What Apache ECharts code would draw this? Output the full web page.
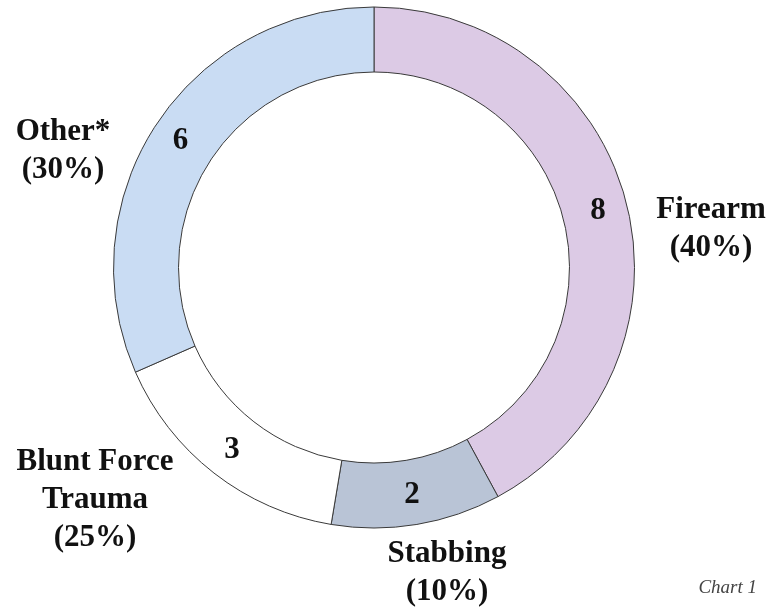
<!DOCTYPE html>
<html>
<head>
    <meta charset="utf-8">
    <title>Chart 1</title>
    <script src="https://cdn.jsdelivr.net/npm/echarts@6/dist/echarts.min.js"></script>
    <style>
    html, body { margin: 0; padding: 0; background: #fff; }
    #main { width: 771px; height: 607px; }
    </style>
</head>
<body>
    <div id="main"></div>
    <script type="text/javascript">
        // data, clockwise from 12 o'clock
        var categories = ['Firearm', 'Stabbing', 'Blunt Force\nTrauma', 'Other*'];
        var counts = [8, 2, 3, 6];
        var pctLabels = ['40%', '10%', '25%', '30%'];
        var sliceColors = ['#DCCAE5', '#B9C4D6', '#FFFFFF', '#C9DCF3'];

        // where each outer label sits (centre of text block)
        var labelPos = [[711, 229], [447, 573], [95, 500], [63, 151]];

        var myChart = echarts.init(document.getElementById('main'));

        var pieData = categories.map(function (name, i) {
            return {
                name: name,
                value: counts[i],
                itemStyle: { color: sliceColors[i] }
            };
        });

        var font = '"Liberation Serif", "Times New Roman", serif';

        var option = {
            backgroundColor: '#fff',
            animation: false,
            series: [
                {
                    type: 'pie',
                    center: [374, 267.5],
                    radius: [195.5, 260.5],
                    startAngle: 90,
                    clockwise: true,
                    silent: true,
                    itemStyle: {
                        borderColor: '#3a3a3a',
                        borderWidth: 1
                    },
                    label: {
                        show: true,
                        position: 'inside',
                        formatter: '{c}',
                        color: '#111',
                        fontFamily: font,
                        fontWeight: 'bold',
                        fontSize: 31
                    },
                    labelLine: { show: false },
                    data: pieData
                },
                {
                    // copy of the ring only used to carry the outer labels
                    type: 'pie',
                    center: [374, 267.5],
                    radius: [195.5, 260.5],
                    startAngle: 90,
                    silent: true,
                    itemStyle: { color: 'transparent', borderWidth: 0 },
                    label: {
                        show: true,
                        position: 'outside',
                        overflow: 'none',
                        width: 200,
                        formatter: function (p) {
                            return p.name + '\n(' + pctLabels[p.dataIndex] + ')';
                        },
                        color: '#111',
                        fontFamily: font,
                        fontWeight: 'bold',
                        fontSize: 31,
                        lineHeight: 38,
                        align: 'center'
                    },
                    labelLine: { show: false },
                    labelLayout: function (params) {
                        var p = labelPos[params.dataIndex];
                        return {
                            x: p[0],
                            y: p[1],
                            align: 'center',
                            verticalAlign: 'middle'
                        };
                    },
                    data: categories.map(function (name, i) {
                        return { name: name, value: counts[i] };
                    })
                }
            ],
            graphic: [
                {
                    type: 'text',
                    right: 14,
                    top: 578,
                    style: {
                        text: 'Chart 1',
                        fill: '#444',
                        font: 'italic 19px "Liberation Serif", serif'
                    }
                }
            ]
        };

        myChart.setOption(option);
    </script>
</body>
</html>
